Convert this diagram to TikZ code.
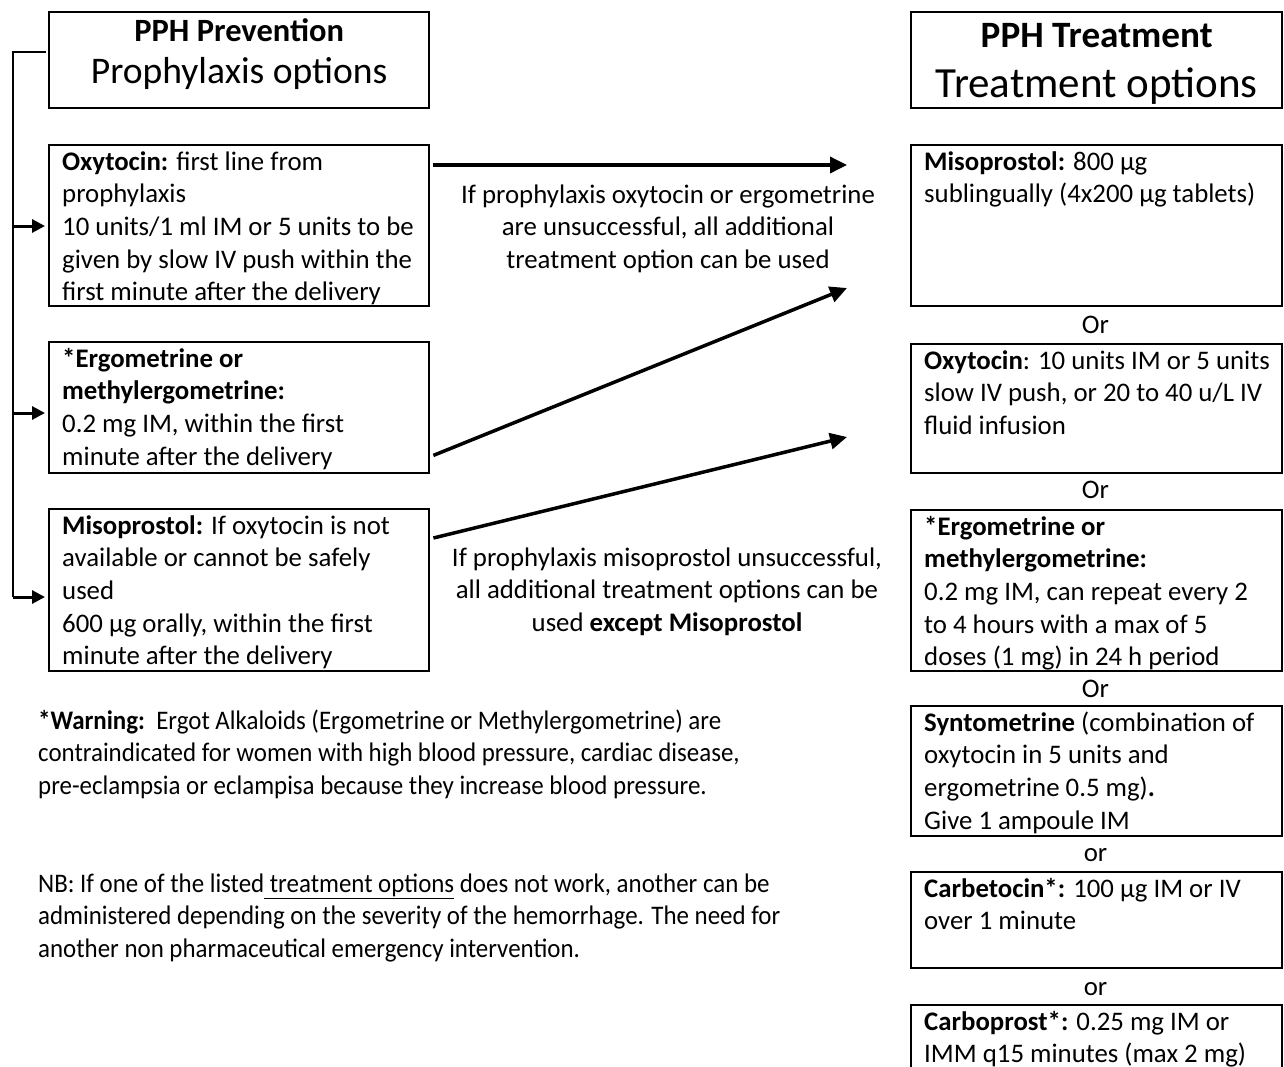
\documentclass[tikz,border=0pt]{standalone}
\usepackage{fontspec}
\setmainfont{Carlito}
\newfontfamily\condfont[FakeStretch=0.93]{Carlito}
\usetikzlibrary{arrows.meta,calc}
\begin{document}
\begin{tikzpicture}[x=1pt,y=-1pt,
  bx/.style={draw, line width=2.4pt, inner sep=0pt, anchor=north west},
  bodyfont/.style={font=\fontsize{26.8}{32.6}\selectfont},
  tx/.style={bodyfont, inner sep=0pt, align=left, anchor=north west, xshift=14pt},
  ctx/.style={bodyfont, inner sep=0pt, align=center, anchor=north},
  ptx/.style={font=\condfont\fontsize{26.8}{32.6}\selectfont, inner sep=0pt, align=left, anchor=north west},
  orl/.style={bodyfont, inner sep=0pt, anchor=base},
  bigarr/.style={line width=3.5pt, -{Triangle[length=17pt,width=16pt]}},
  brarr/.style={line width=3pt, shorten >=3pt, -{Triangle[length=13pt,width=13pt]}},
  brline/.style={line width=1.8pt},
]
\useasboundingbox (0,0) rectangle (1284,1066);
\clip (0,0) rectangle (1284,1066);

% ---------- left column ----------
\node[bx, minimum width=380pt, minimum height=96pt] (hl) at (48,11) {};
\node[anchor=base, inner sep=0pt, font=\fontsize{32.5}{34}\selectfont\bfseries] (hl1) at (hl.north |- 0,41) {PPH Prevention};
\node[anchor=base, inner sep=0pt, font=\fontsize{37.6}{40}\selectfont] (hl2) at (hl.north |- 0,83) {Prophylaxis options};

\node[bx, minimum width=380pt, minimum height=161pt] (l1) at (48,144) {};
\node[tx] (l1t) at (l1.north west) {\rule{0pt}{26pt}\textbf{Oxytocin:} first line from\\prophylaxis\\10 units/1 ml IM or 5 units to be\\given by slow IV push within the\\first minute after the delivery};

\node[bx, minimum width=380pt, minimum height=131pt] (l2) at (48,341) {};
\node[tx] (l2t) at (l2.north west) {\rule{0pt}{26pt}\textbf{*Ergometrine or}\\\textbf{methylergometrine:}\\0.2 mg IM, within the first\\minute after the delivery};

\node[bx, minimum width=380pt, minimum height=162pt] (l3) at (48,508) {};
\node[tx] (l3t) at (l3.north west) {\rule{0pt}{26pt}\textbf{Misoprostol:} If oxytocin is not\\available or cannot be safely\\used\\600 µg orally, within the first\\minute after the delivery};

% ---------- right column ----------
\node[bx, minimum width=371pt, minimum height=96pt] (hr) at (910,11) {};
\node[anchor=base, inner sep=0pt, font=\fontsize{37.2}{40}\selectfont\bfseries] (hr1) at (hr.north |- 0,47) {PPH Treatment};
\node[anchor=base, inner sep=0pt, font=\fontsize{43}{46}\selectfont] (hr2) at (hr.north |- 0,97) {Treatment options};

\node[bx, minimum width=371pt, minimum height=161pt] (r1) at (910,144) {};
\node[tx] (r1t) at (r1.north west) {\rule{0pt}{26pt}\textbf{Misoprostol:} 800 µg\\sublingually (4x200 µg tablets)};
\node[orl] (or1) at (1095.5,333) {Or};

\node[bx, minimum width=371pt, minimum height=129pt] (r2) at (910,343) {};
\node[tx] (r2t) at (r2.north west) {\rule{0pt}{26pt}\textbf{Oxytocin}: 10 units IM or 5 units\\slow IV push, or 20 to 40 u/L IV\\fluid infusion};
\node[orl] (or2) at (1095.5,498) {Or};

\node[bx, minimum width=371pt, minimum height=161pt] (r3) at (910,509) {};
\node[tx] (r3t) at (r3.north west) {\rule{0pt}{26pt}\textbf{*Ergometrine or}\\\textbf{methylergometrine:}\\0.2 mg IM, can repeat every 2\\to 4 hours with a max of 5\\doses (1 mg) in 24 h period};
\node[orl] (or3) at (1095.5,697) {Or};

\node[bx, minimum width=371pt, minimum height=130pt] (r4) at (910,705) {};
\node[tx] (r4t) at (r4.north west) {\rule{0pt}{26pt}\textbf{Syntometrine} (combination of\\oxytocin in 5 units and\\ergometrine 0.5 mg)\textbf{.}\\Give 1 ampoule IM};
\node[orl] (or4) at (1095.5,861) {or};

\node[bx, minimum width=371pt, minimum height=96pt] (r5) at (910,871) {};
\node[tx] (r5t) at (r5.north west) {\rule{0pt}{26pt}\textbf{Carbetocin*:} 100 µg IM or IV\\over 1 minute};
\node[orl] (or5) at (1095.5,995) {or};

\node[bx, minimum width=371pt, minimum height=110pt] (r6) at (910,1004) {};
\node[tx] (r6t) at (r6.north west) {\rule{0pt}{26pt}\textbf{Carboprost*:} 0.25 mg IM or\\IMM q15 minutes (max 2 mg)};

% ---------- middle texts ----------
\node[ctx] (m1) at (668,178) {\rule{0pt}{25pt}If prophylaxis oxytocin or ergometrine\\are unsuccessful, all additional\\treatment option can be used};
\node[ctx] (m2) at (667,541) {\rule{0pt}{25pt}If prophylaxis misoprostol unsuccessful,\\all additional treatment options can be\\used \textbf{except Misoprostol}};

% ---------- notes ----------
\node[ptx] (warn) at (38,704) {\rule{0pt}{25pt}\textbf{*Warning:}\ \ Ergot Alkaloids (Ergometrine or Methylergometrine) are\\contraindicated for women with high blood pressure, cardiac disease,\\pre-eclampsia or eclampisa because they increase blood pressure.};
\node[ptx] (nb) at (38,867) {\rule{0pt}{25pt}NB: If one of the listed\underline{\ treatment options} does not work, another can be\\administered depending on the severity of the hemorrhage. The need for\\another non pharmaceutical emergency intervention.};

% ---------- connectors ----------
\coordinate (e1) at (847,165);
\coordinate (e2) at (847,288);
\coordinate (e3) at (847,437);
\draw[bigarr] ($(l1.north east)+(3,21)$) -- (e1);
\draw[bigarr] ($(l2.south east)+(3,-19)$) -- (e2);
\draw[bigarr] ($(l3.north east)+(3,30)$) -- (e3);

\coordinate (s1) at (13,226);
\coordinate (s2) at (13,413);
\coordinate (s3) at (13,597);
\draw[brline] ($(hl.west)+(-2,-8)$) -| (s3);
\draw[brarr] (s1) -- (s1 -| l1.west);
\draw[brarr] (s2) -- (s2 -| l2.west);
\draw[brarr] (s3) -- (s3 -| l3.west);
\end{tikzpicture}
\end{document}
